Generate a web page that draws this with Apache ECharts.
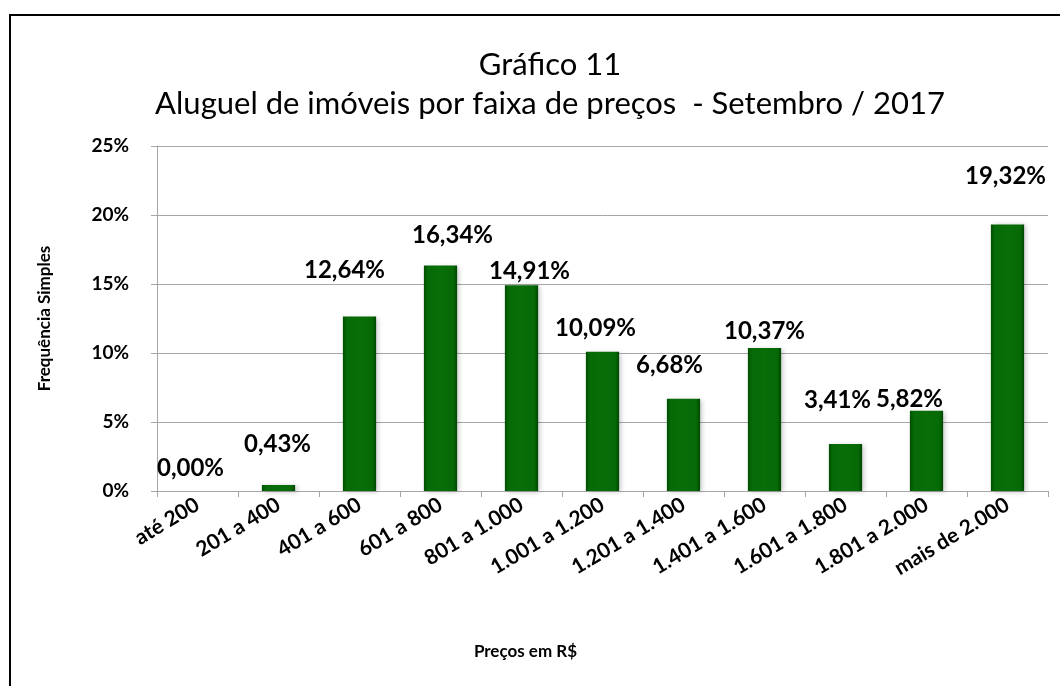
<!DOCTYPE html>
<html>
<head>
<meta charset="utf-8">
<script src="https://cdn.jsdelivr.net/npm/echarts@6/dist/echarts.min.js"></script>
<style>
  html, body { margin: 0; padding: 0; background: #fff; overflow: hidden; }
  .frame {
    position: absolute; left: 9px; top: 14px;
    width: 1200px; height: 800px;
    border: 2px solid #000;
  }
  #chart { position: absolute; left: 0; top: 0; width: 1060px; height: 686px; }
</style>
</head>
<body>
<div class="frame"></div>
<div id="chart"></div>
<script>
// faixas de preço
var faixas = ['até 200', '201 a 400', '401 a 600', '601 a 800', '801 a 1.000',
  '1.001 a 1.200', '1.201 a 1.400', '1.401 a 1.600', '1.601 a 1.800',
  '1.801 a 2.000', 'mais de 2.000'];
// frequência simples (%)
var frequencia = [0.00, 0.43, 12.64, 16.34, 14.91, 10.09, 6.68, 10.37, 3.41, 5.82, 19.32];
// y axis ticks
var yTicks = [0, 5, 10, 15, 20, 25];
// nudges for the data labels, like in the excel chart
var labelNudge = [[-7, -11], [-1, -29], [-15, -34], [12, -18], [8, -2], [-7, -11],
  [-14, -22], [0, -5], [-8, -32], [-17, 1], [-2, -36]];

var font = 'Lato, "Open Sans", sans-serif';

(function () {
  var myChart = echarts.init(document.getElementById('chart'));

  var barData = frequencia.map(function (v, i) {
    return {
      value: v,
      label: { offset: labelNudge[i] }
    };
  });

  var option = {
    animation: false,
    title: {
      text: 'Gráfico 11\nAluguel de imóveis por faixa de preços  - Setembro / 2017',
      left: 545,
      top: 40,
      textAlign: 'center',
      textStyle: {
        fontFamily: font,
        fontSize: 31,
        fontWeight: 'normal',
        color: '#000',
        lineHeight: 39
      }
    },
    grid: {
      left: 157,
      right: 12,
      top: 146,
      bottom: 195
    },
    xAxis: {
      type: 'category',
      data: faixas,
      name: 'Preços em R$',
      nameLocation: 'middle',
      nameGap: 152,
      nameTextStyle: {
        fontFamily: font,
        fontSize: 17,
        fontWeight: 'bold',
        color: '#000',
        padding: [0, 154, 0, 0]
      },
      axisLine: { lineStyle: { color: '#a6a6a6', width: 1 } },
      axisTick: { show: true, length: 6, lineStyle: { color: '#a6a6a6' } },
      axisLabel: {
        interval: 0,
        rotate: 31,
        margin: 12,
        fontFamily: font,
        fontSize: 21,
        fontWeight: 'bold',
        color: '#000'
      }
    },
    yAxis: {
      type: 'value',
      min: yTicks[0],
      max: yTicks[yTicks.length - 1],
      interval: 5,
      name: 'Frequência Simples',
      nameLocation: 'middle',
      nameGap: 104,
      nameTextStyle: {
        fontFamily: font,
        fontSize: 17,
        fontWeight: 'bold',
        color: '#000'
      },
      axisLine: { show: true, lineStyle: { color: '#a6a6a6', width: 1 } },
      axisTick: { show: true, length: 6, lineStyle: { color: '#a6a6a6' } },
      splitLine: { lineStyle: { color: '#a6a6a6', width: 1 } },
      axisLabel: {
        margin: 28,
        fontFamily: font,
        fontSize: 19,
        fontWeight: 'bold',
        color: '#000',
        formatter: '{value}%'
      }
    },
    series: [
      {
        type: 'bar',
        barWidth: '41%',
        data: barData,
        itemStyle: {
          color: new echarts.graphic.LinearGradient(0, 0, 1, 0, [
            { offset: 0, color: '#004e00' },
            { offset: 0.12, color: '#066a06' },
            { offset: 0.5, color: '#086e08' },
            { offset: 0.88, color: '#066a06' },
            { offset: 1, color: '#004800' }
          ]),
          borderWidth: 0,
          shadowColor: 'rgba(0,0,0,0.25)',
          shadowBlur: 5,
          shadowOffsetX: 2,
          shadowOffsetY: 1
        },
        label: {
          show: true,
          position: 'top',
          distance: 0,
          fontFamily: font,
          fontSize: 24,
          fontWeight: 'bold',
          color: '#000',
          formatter: function (p) {
            return p.value.toFixed(2).replace('.', ',') + '%';
          }
        }
      }
    ]
  };
  myChart.setOption(option);
})();
</script>
</body>
</html>
